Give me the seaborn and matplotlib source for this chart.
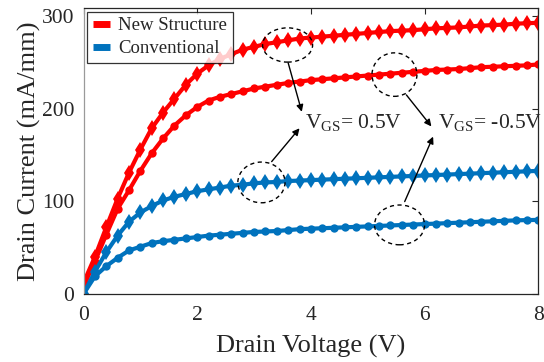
import numpy as np
import pandas as pd
import seaborn as sns
import matplotlib
matplotlib.use("Agg")
import matplotlib.pyplot as plt
from matplotlib.lines import Line2D
from matplotlib.patches import Ellipse

# Drain voltage sweep (V)
vds = [round(0.2 * i, 1) for i in range(41)]

# Drain current (mA/mm)
new_vgs_pos = [12, 40, 72, 103, 131, 156, 179, 196, 211, 226, 238, 247, 254, 259, 264,
               267, 270, 272, 274, 276, 277, 278, 279, 280, 281, 282, 283, 284, 284.5,
               285, 286, 287, 287.5, 288, 289, 290, 290.5, 291, 292, 292.5, 293]
new_vgs_neg = [8, 35, 64, 92, 112, 133, 152, 168, 182, 193, 202, 209, 213, 216, 219,
               222, 224, 226, 228, 229.5, 231, 232, 233, 234, 235, 236, 237, 238, 239,
               240, 241, 242, 242.5, 243, 244, 245, 245.5, 246, 246.5, 247, 248]
conv_vgs_pos = [0, 24, 45, 63, 78, 88, 95, 101, 105, 108, 111, 113, 115, 117, 118,
                119.5, 120.5, 121, 122, 122.5, 123, 123.5, 124, 124.5, 125, 125.5, 126,
                126.5, 127, 127.5, 128, 128.5, 129, 129.5, 130, 130.5, 131, 131.5, 132,
                132.5, 133]
conv_vgs_neg = [0, 19, 30, 39, 47, 51, 55, 57, 58.5, 60, 61.5, 63, 64, 65, 66, 67, 67.5,
                68, 69, 70, 70.5, 71, 71.5, 72, 72.5, 73, 73.5, 74, 74.5, 75, 75.5, 76,
                76.5, 77, 77.5, 78, 78.5, 79, 79.5, 79.8, 80]

legend_labels = ["New Structure", "Conventional"]
x_ticks = [0, 2, 4, 6, 8]
y_ticks = [0, 100, 200, 300]

RED = "#FF0000"
BLUE = "#0072BD"
TXT = "#262626"

sns.set_style("white")
plt.rcParams["font.family"] = ["Liberation Serif", "DejaVu Serif"]
plt.rcParams["mathtext.fontset"] = "custom"
plt.rcParams["mathtext.rm"] = "Liberation Serif"

fig = plt.figure(figsize=(5.44, 3.62), dpi=100)
ax = fig.add_axes([0.1535, 0.188, 0.836, 0.790])

series = [
    (new_vgs_pos, RED, "d", 8.0),
    (new_vgs_neg, RED, "o", 6.0),
    (conv_vgs_pos, BLUE, "d", 8.0),
    (conv_vgs_neg, BLUE, "o", 6.0),
]
for vals, col, mk, ms in series:
    df = pd.DataFrame({"Vds": vds, "Id": vals})
    sns.lineplot(data=df, x="Vds", y="Id", color=col, marker=mk, markersize=ms,
                 markeredgewidth=0, linewidth=3.0, ax=ax, legend=False)

ax.set_xlim(0, 8)
ax.set_ylim(0, 309)
ax.set_xticks(x_ticks)
ax.set_yticks(y_ticks)
ax.tick_params(direction="in", length=4, width=0.8, top=True, right=True,
               labelsize=15.5, colors=TXT)
ax.tick_params(axis="x", pad=9)
ax.tick_params(axis="y", pad=6.5)
for lab in ax.get_xticklabels() + ax.get_yticklabels():
    lab.set_color(TXT)
for side in ["top", "right", "bottom"]:
    ax.spines[side].set_color("#262626")
    ax.spines[side].set_linewidth(0.9)
ax.spines["left"].set_color("#9a9a9a")
ax.spines["left"].set_linewidth(0.9)

ax.set_xlabel("Drain Voltage (V)", fontsize=19, color=TXT, labelpad=7)
ax.set_ylabel("Drain Current (mA/mm)", fontsize=19, color=TXT, labelpad=1)

# Dashed ellipses marking the curve regions
ellipses = [(3.59, 269, 0.88, 37), (5.47, 237, 0.79, 47),
            (3.13, 120.5, 0.83, 44), (5.56, 74.6, 0.88, 43)]
for cx, cy, w, h in ellipses:
    ax.add_patch(Ellipse((cx, cy), w, h, fill=False, ls=(0, (3, 2.5)),
                         lw=1.0, ec="black", zorder=5))

# Arrows pointing to the bias labels
arrows = [((3.60, 249.7), (3.84, 196.8)), ((3.31, 143), (3.80, 179)),
          ((5.68, 215), (6.12, 181)), ((5.65, 99.8), (6.15, 170))]
for start, end in arrows:
    ax.annotate("", xy=end, xytext=start,
                arrowprops=dict(arrowstyle="-|>", color="black", lw=1.0,
                                mutation_scale=10, shrinkA=0, shrinkB=0), zorder=6)

ax.text(3.89, 185, r"$\mathregular{V_{GS}}$= 0.5V", fontsize=15.5, color=TXT,
        va="center", ha="left", zorder=6)
ax.text(6.24, 185, r"$\mathregular{V_{GS}}$= -0.5V", fontsize=15.5, color=TXT,
        va="center", ha="left", zorder=6)

handles = [Line2D([], [], color=RED, lw=5, solid_capstyle="butt"),
           Line2D([], [], color=BLUE, lw=5, solid_capstyle="butt")]
leg = ax.legend(handles, legend_labels, loc="upper left", fontsize=13.5,
                frameon=True, fancybox=False, edgecolor="black",
                handlelength=0.9, handletextpad=0.45, borderpad=0.3,
                labelspacing=0.3, borderaxespad=0.2)
leg.get_frame().set_linewidth(0.9)
for t in leg.get_texts():
    t.set_color(TXT)

fig.savefig("out.png", dpi=100)
